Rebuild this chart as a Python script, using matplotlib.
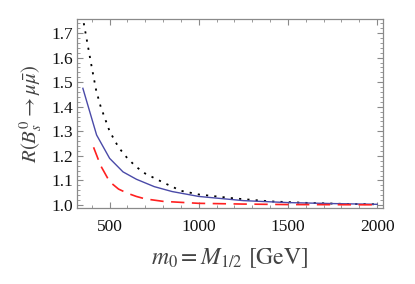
import matplotlib
matplotlib.use("Agg")
import matplotlib.pyplot as plt
from matplotlib.ticker import MultipleLocator

# values
x_dot = [355, 375, 400, 425, 450, 500, 550, 600, 650, 700, 800, 900, 1000,
         1200, 1400, 1600, 1800, 2000]
r_dot = [1.74, 1.66, 1.56, 1.465, 1.40, 1.30, 1.235, 1.19, 1.155, 1.128,
         1.092, 1.058, 1.043, 1.027, 1.015, 1.009, 1.005, 1.003]

x_blue = [350, 427, 500, 575, 650, 750, 850, 1000, 1250, 1500, 1750, 2000]
r_blue = [1.475, 1.285, 1.19, 1.135, 1.105, 1.075, 1.055, 1.035, 1.018,
          1.010, 1.006, 1.003]

x_red = [410, 450, 500, 550, 600, 650, 700, 800, 1000, 1250, 1500, 2000]
r_red = [1.235, 1.16, 1.095, 1.065, 1.048, 1.035, 1.025, 1.015, 1.007,
         1.004, 1.002, 1.001]

plt.rcParams['font.family'] = ['Liberation Serif', 'DejaVu Serif']
plt.rcParams['mathtext.fontset'] = 'stix'

fig = plt.figure(figsize=(4.15, 2.84), dpi=100)
ax = fig.add_axes([0.1855, 0.2676, 0.7375, 0.6655])

ax.plot(x_dot, r_dot, color='black', lw=1.3, linestyle=(0, (1.2, 3.4)))
ax.plot(x_blue, r_blue, color='#4a4aa8', lw=1.0)
ax.plot(x_red, r_red, color='#ff2020', lw=1.2, linestyle=(0, (8, 4.5)))

ax.set_xlim(317, 2033)
ax.set_ylim(0.988, 1.757)

ax.xaxis.set_major_locator(MultipleLocator(500))
ax.xaxis.set_minor_locator(MultipleLocator(100))
ax.yaxis.set_major_locator(MultipleLocator(0.1))
ax.yaxis.set_minor_locator(MultipleLocator(0.02))
ax.yaxis.set_major_formatter(plt.FuncFormatter(lambda v, p: f"{v:.1f}"))

frame = '#8a8a8a'
for s in ax.spines.values():
    s.set_color(frame)
    s.set_linewidth(0.9)
ax.tick_params(which='both', direction='in', top=True, right=True,
               color=frame, labelsize=12.5, labelcolor='#111111')
ax.tick_params(axis='x', which='major', pad=8)
ax.tick_params(axis='y', which='major', pad=3)
ax.tick_params(which='major', length=4, width=0.8)
ax.tick_params(which='minor', length=2, width=0.6)

ax.set_xlabel(r'$m_0 = M_{1/2}\ [\mathrm{GeV}]$', fontsize=17,
              color='#444444', labelpad=8)
ax.set_ylabel(r'$R(B_s^0 \to \mu\bar{\mu})$', fontsize=15,
              color='#444444', labelpad=5)

fig.savefig('out.png', dpi=100)
